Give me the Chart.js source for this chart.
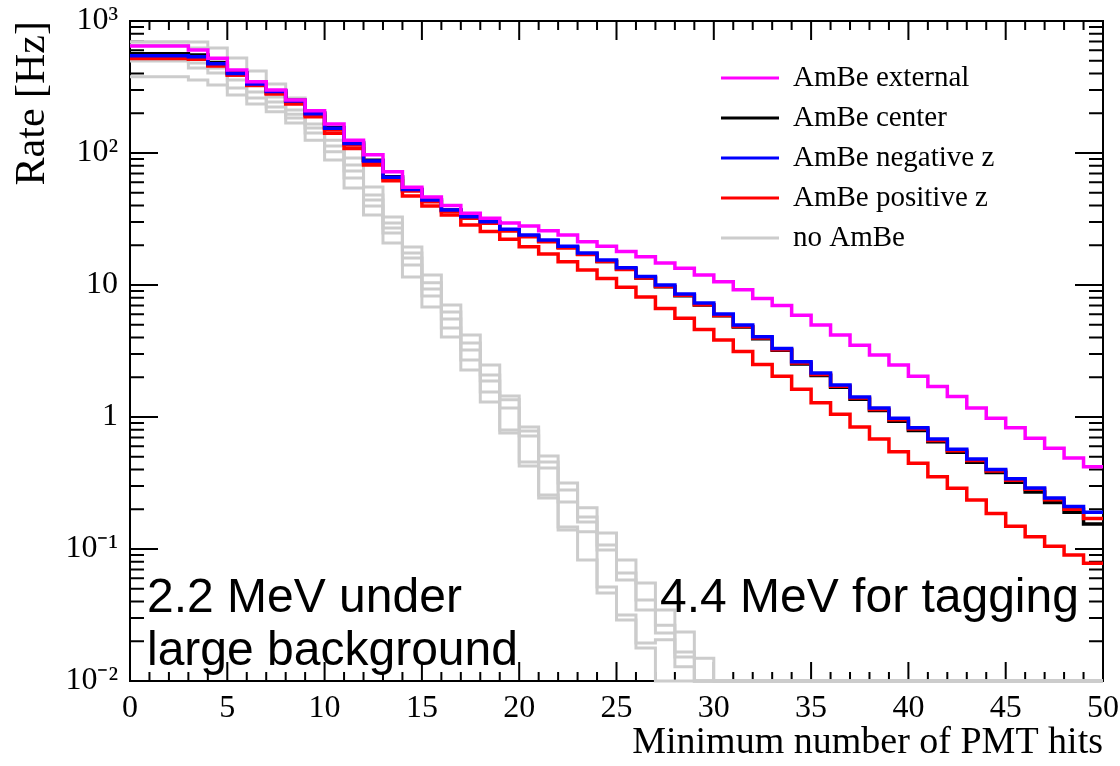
<!DOCTYPE html>
<html>
  <head>
    <title>AmBe rate vs minimum PMT hits</title>
    <script src="https://cdn.jsdelivr.net/npm/chart.js"></script>
    <style>
      body { margin: 0; background: #fff; }
    </style>
  </head>
  <body>
    <canvas id="rate-chart" width="1120" height="766"></canvas>
    <script>
      // Rate [Hz] for events with at least N PMT hits, one value per bin N = 0..49
      const ambeExternal = [646, 646, 646, 603, 522, 425, 347, 300, 252, 209,
        166, 125, 97, 72, 55, 46.5, 40, 35, 32, 29.5,
        28, 25.8, 23.9, 21.3, 19.7, 17.9, 16.4, 14.7, 13.4, 11.9,
        10.6, 9.2, 7.9, 7.0, 5.9, 4.98, 4.18, 3.5, 2.95, 2.48,
        2.04, 1.70, 1.43, 1.17, 0.98, 0.83, 0.69, 0.58, 0.49, 0.42];
      const ambeCenter = [565, 565, 565, 552, 483, 406, 337, 296, 251, 202,
        156, 120, 88, 66, 53, 44, 37, 32.5, 29.8, 26,
        23.5, 21.5, 19.3, 17.1, 15.1, 13.2, 11.3, 9.7, 8.3, 7.05,
        5.85, 4.8, 3.92, 3.2, 2.52, 2.06, 1.68, 1.36, 1.12, 0.93,
        0.79, 0.65, 0.54, 0.455, 0.38, 0.32, 0.27, 0.225, 0.19, 0.155];
      const ambeNegZ = [545, 545, 545, 535, 475, 400, 333, 292, 248, 198,
        154, 118, 87, 65.5, 53, 44, 37, 32.9, 30.2, 26.5,
        23.9, 21.9, 19.7, 17.5, 15.5, 13.5, 11.6, 10, 8.55, 7.3,
        6.03, 4.98, 4.06, 3.31, 2.62, 2.15, 1.75, 1.42, 1.17, 0.98,
        0.83, 0.68, 0.57, 0.48, 0.40, 0.34, 0.29, 0.243, 0.21, 0.19];
      const ambePosZ = [521, 521, 521, 513, 456, 390, 327, 280, 235, 188,
        141, 108, 81, 61.7, 47.2, 39.6, 33.9, 28.5, 25.4, 22.2,
        19.5, 17.2, 15.0, 13.0, 11.2, 9.6, 8.1, 6.65, 5.6, 4.6,
        3.83, 3.13, 2.5, 2.04, 1.62, 1.28, 1.05, 0.84, 0.68, 0.546,
        0.446, 0.353, 0.288, 0.235, 0.186, 0.149, 0.124, 0.105, 0.090, 0.078];
      // second positive-z run, sits right under the negative-z curve
      const ambePosZ2 = [530, 530, 530, 520, 462, 390, 325, 284, 241, 193,
        150, 115, 85, 64, 51.5, 42.8, 36, 32, 29.3, 25.7,
        23.2, 21.3, 19.1, 17, 15.1, 13.1, 11.3, 9.75, 8.35, 7.1,
        5.88, 4.85, 3.96, 3.23, 2.56, 2.1, 1.71, 1.39, 1.14, 0.955,
        0.81, 0.665, 0.555, 0.468, 0.39, 0.332, 0.283, 0.236, 0.2, 0.17];

      // background runs without source; 0.01 = empty bin (drawn on the axis)
      const noAmBe1 = [697, 697, 697, 693, 624, 525, 418, 333, 261, 197,
        142, 91.6, 55.3, 32.7, 19.4, 11.9, 7.05, 4.18, 2.48, 1.44,
        0.840, 0.507, 0.316, 0.205, 0.132, 0.0826, 0.0552, 0.0345, 0.0235, 0.0149,
        0.01, 0.01, 0.01, 0.01, 0.01, 0.01, 0.01, 0.01, 0.01, 0.01,
        0.01, 0.01, 0.01, 0.01, 0.01, 0.01, 0.01, 0.01, 0.01, 0.01];
      const noAmBe2 = [658, 658, 658, 624, 507, 411, 327, 266, 212, 166,
        125, 81.1, 48.1, 29.5, 17.5, 10.4, 6.24, 3.64, 2.08, 1.35,
        0.783, 0.456, 0.280, 0.175, 0.107, 0.0658, 0.0411, 0.0265, 0.0166, 0.01,
        0.01, 0.01, 0.01, 0.01, 0.01, 0.01, 0.01, 0.01, 0.01, 0.01,
        0.01, 0.01, 0.01, 0.01, 0.01, 0.01, 0.01, 0.01, 0.01, 0.01];
      const noAmBe3 = [537, 537, 537, 481, 440, 357, 290, 243, 197, 155,
        113, 73.1, 44.0, 27.0, 16.0, 9.33, 5.52, 3.22, 1.87, 1.17,
        0.718, 0.411, 0.227, 0.160, 0.0982, 0.0582, 0.0345, 0.0231, 0.0152, 0.01,
        0.01, 0.01, 0.01, 0.01, 0.01, 0.01, 0.01, 0.01, 0.01, 0.01,
        0.01, 0.01, 0.01, 0.01, 0.01, 0.01, 0.01, 0.01, 0.01, 0.01];
      const noAmBe4 = [498, 498, 498, 440, 404, 311, 261, 223, 184, 142,
        102, 64.7, 39.7, 24.8, 14.2, 8.26, 4.72, 2.70, 1.55, 0.797,
        0.456, 0.256, 0.147, 0.135, 0.0515, 0.0316, 0.0194, 0.0205, 0.0128, 0.01,
        0.01, 0.01, 0.01, 0.01, 0.01, 0.01, 0.01, 0.01, 0.01, 0.01,
        0.01, 0.01, 0.01, 0.01, 0.01, 0.01, 0.01, 0.01, 0.01, 0.01];
      const noAmBe5 = [378, 378, 378, 357, 327, 275, 235, 205, 169, 125,
        88.5, 54.3, 33.9, 20.8, 11.5, 6.81, 4.04, 2.27, 1.30, 0.757,
        0.426, 0.243, 0.139, 0.0826, 0.0464, 0.0290, 0.0178, 0.01, 0.01, 0.01,
        0.01, 0.01, 0.01, 0.01, 0.01, 0.01, 0.01, 0.01, 0.01, 0.01,
        0.01, 0.01, 0.01, 0.01, 0.01, 0.01, 0.01, 0.01, 0.01, 0.01];

      const yTickValues = [0.01, 0.1, 1, 10, 100, 1000];
      const yTickLabels = ['10\u207B\u00B2', '10\u207B\u00B9', '1', '10', '10\u00B2', '10\u00B3'];
      const noteLow = ['2.2 MeV under', 'large background'];
      const noteHigh = '4.4 MeV for tagging';

      // histogram bins -> step points (bin i covers [i, i+1))
      function steps(values) {
        const pts = values.map((v, i) => ({ x: i, y: v }));
        pts.push({ x: values.length, y: values[values.length - 1] });
        return pts;
      }

      function hist(label, values, color, order, inKey, width) {
        return {
          label: label,
          data: steps(values),
          borderColor: color,
          backgroundColor: color,
          borderWidth: width,
          pointRadius: 0,
          stepped: true,
          fill: false,
          order: order,
          inKey: inKey,
          clip: { left: 0, top: 0, right: 0, bottom: 2 }
        };
      }

      const datasets = [
        hist('AmBe external', ambeExternal, '#ff00ff', 1, true, 3.5),
        hist('AmBe center', ambeCenter, '#000000', 4, true, 3.5),
        hist('AmBe negative z', ambeNegZ, '#0000ff', 2, true, 3.5),
        hist('AmBe positive z', ambePosZ, '#ff0000', 3, true, 3.5),
        hist('AmBe positive z', ambePosZ2, '#ff0000', 3, false, 3.5),
        hist('no AmBe', noAmBe1, '#cccccc', 9, true, 3),
        hist('no AmBe', noAmBe2, '#cccccc', 9, false, 3),
        hist('no AmBe', noAmBe3, '#cccccc', 9, false, 3),
        hist('no AmBe', noAmBe4, '#cccccc', 9, false, 3),
        hist('no AmBe', noAmBe5, '#cccccc', 9, false, 3)
      ];

      // ROOT-style frame: box plus inward ticks on all four sides
      const frameTicks = {
        id: 'frameTicks',
        beforeDatasetsDraw(chart) {
          const { ctx, chartArea: a, scales: { x, y } } = chart;
          ctx.save();
          ctx.strokeStyle = '#000';
          ctx.lineWidth = 2;
          ctx.strokeRect(a.left, a.top, a.right - a.left, a.bottom - a.top);
          ctx.beginPath();
          for (let v = 0; v <= 50; v++) {
            const px = x.getPixelForValue(v);
            const len = v % 5 === 0 ? 19 : 9;
            ctx.moveTo(px, a.bottom); ctx.lineTo(px, a.bottom - len);
            ctx.moveTo(px, a.top); ctx.lineTo(px, a.top + len);
          }
          for (let e = -2; e <= 2; e++) {
            for (let m = 1; m <= 9; m++) {
              const py = y.getPixelForValue(m * Math.pow(10, e));
              const len = m === 1 ? 28 : 14;
              ctx.moveTo(a.left, py); ctx.lineTo(a.left + len, py);
              ctx.moveTo(a.right, py); ctx.lineTo(a.right - len, py);
            }
          }
          ctx.stroke();
          ctx.restore();
        },
        afterDatasetsDraw(chart) {
          const { ctx } = chart;
          ctx.save();
          // key
          let row = 0;
          ctx.font = '29px "Liberation Serif"';
          ctx.textBaseline = 'middle';
          ctx.textAlign = 'left';
          chart.data.datasets.forEach(ds => {
            if (!ds.inKey) return;
            const yy = 78 + row * 40;
            ctx.strokeStyle = ds.borderColor;
            ctx.lineWidth = 3;
            ctx.beginPath();
            ctx.moveTo(721, yy); ctx.lineTo(779, yy);
            ctx.stroke();
            ctx.fillStyle = '#000';
            ctx.fillText(ds.label, 793, yy);
            row++;
          });
          // notes on the two gamma lines
          ctx.font = '48px "Liberation Sans"';
          ctx.textBaseline = 'alphabetic';
          ctx.fillStyle = '#000';
          ctx.fillText(noteLow[0], 147, 612);
          ctx.fillText(noteLow[1], 147, 665);
          ctx.fillText(noteHigh, 660, 612);
          ctx.restore();
        }
      };

      const ctx = document.getElementById('rate-chart').getContext('2d');
      new Chart(ctx, {
        type: 'line',
        data: { datasets: datasets },
        plugins: [frameTicks],
        options: {
          responsive: false,
          animation: false,
          devicePixelRatio: 1,
          layout: { padding: { left: 0, right: 17, top: 21, bottom: 0 } },
          plugins: {
            legend: { display: false },
            tooltip: { enabled: false }
          },
          scales: {
            x: {
              type: 'linear',
              min: 0,
              max: 50,
              grid: { display: false, drawTicks: false },
              border: { display: false },
              ticks: {
                stepSize: 5,
                padding: 8,
                color: '#000',
                maxRotation: 0,
                font: { family: '"Liberation Serif"', size: 32 }
              },
              title: {
                display: true,
                text: 'Minimum number of PMT hits',
                align: 'end',
                color: '#000',
                padding: { top: 0, bottom: 0 },
                font: { family: '"Liberation Serif"', size: 38 }
              },
              afterFit(scale) {
                scale.height = 85;
                scale.paddingLeft = 0;
                scale.paddingRight = 0;
              }
            },
            y: {
              type: 'logarithmic',
              min: 0.01,
              max: 1000,
              grid: { display: false, drawTicks: false },
              border: { display: false },
              afterBuildTicks(scale) {
                scale.ticks = yTickValues.map(v => ({ value: v }));
              },
              ticks: {
                padding: 12,
                color: '#000',
                font: { family: '"Liberation Serif"', size: 32 },
                callback(value) {
                  const i = yTickValues.indexOf(value);
                  return i >= 0 ? yTickLabels[i] : '';
                }
              },
              title: {
                display: true,
                text: 'Rate [Hz]',
                align: 'end',
                color: '#000',
                padding: { top: 8, bottom: 0 },
                font: { family: '"Liberation Serif"', size: 42 }
              },
              afterFit(scale) {
                scale.width = 130;
                scale.paddingTop = 0;
                scale.paddingBottom = 0;
              }
            }
          }
        }
      });
    </script>
  </body>
</html>
